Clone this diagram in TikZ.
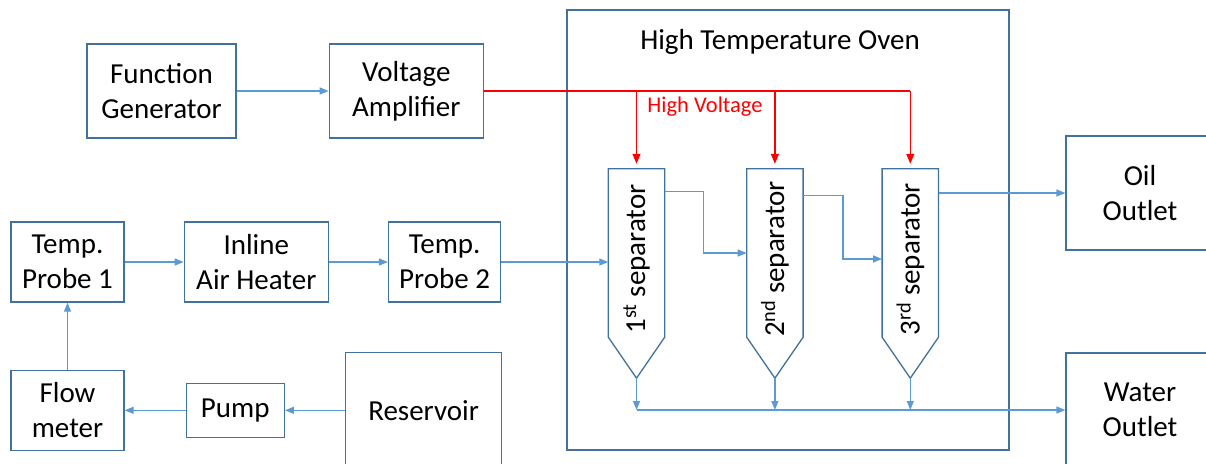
\documentclass[tikz,border=0pt]{standalone}
\usepackage{fontspec}
\setmainfont{Carlito}
\usepackage{tikz}
\usetikzlibrary{arrows.meta,positioning,calc}
\definecolor{boxblue}{RGB}{65,113,156}
\definecolor{flowblue}{RGB}{91,155,213}
\definecolor{hvred}{RGB}{255,0,0}

\begin{document}
\begin{tikzpicture}[
  x=1pt, y=-1pt,
  blkbox/.style={draw=boxblue, line width=1.3pt, align=center, inner sep=2pt,
                 font=\fontsize{29}{35}\selectfont},
  sepbox/.style={minimum width=56pt, minimum height=168pt, inner sep=0pt,
                 font=\fontsize{29}{35}\selectfont},
  flowarr/.style={-{Triangle[length=9pt,width=7pt]}, flowblue, line width=1.3pt},
  hvarr/.style={-{Triangle[length=10pt,width=8pt]}, hvred, line width=1.2pt}
]
\clip (0,0) rectangle (1206,463);

% oven
\node[blkbox, minimum width=442pt, minimum height=440pt] (oven) at (788,230) {};
\node[font=\fontsize{29}{35}\selectfont] (ovtitle) at (780,42) {High Temperature Oven};

% signal chain
\node[blkbox, minimum width=149pt, minimum height=94pt] (fgen) at (161.5,91) {Function\\Generator};
\node[blkbox, minimum width=154pt, minimum height=94pt, right=92pt of fgen] (vamp) {Voltage\\Amplifier};

% air/oil loop
\node[blkbox, minimum width=113pt, minimum height=80pt] (tp1) at (67.5,262) {Temp.\\Probe 1};
\node[blkbox, minimum width=144pt, minimum height=80pt, right=59pt of tp1] (heater) {Inline\\Air Heater};
\node[blkbox, minimum width=112pt, minimum height=80pt, right=59pt of heater] (tp2) {Temp.\\Probe 2};
\node[blkbox, minimum width=113pt, minimum height=80pt, below=67pt of tp1] (flowm) {Flow\\meter};
\node[blkbox, minimum width=98pt, minimum height=54pt, right=61pt of flowm] (pump) {Pump};
\node[blkbox, minimum width=156pt, minimum height=116pt, right=60pt of pump] (resv) {Reservoir};

% separators
\node[sepbox] (sep1) at (636.5,253) {\rotatebox{90}{1\textsuperscript{st} separator\hspace*{12pt}}};
\node[sepbox, right=82pt of sep1] (sep2) {\rotatebox{90}{2\textsuperscript{nd} separator\hspace*{12pt}}};
\node[sepbox, right=79pt of sep2] (sep3) {\rotatebox{90}{3\textsuperscript{rd} separator\hspace*{12pt}}};
\foreach \s in {sep1,sep2,sep3}{
  \coordinate (\s-tip) at ([yshift=-41pt]\s.south);
  \draw[boxblue, line width=1.3pt] (\s.south west) -- (\s.north west) -- (\s.north east)
    -- (\s.south east) -- (\s-tip) -- cycle;
}

% outlets
\node[blkbox, minimum width=148pt, minimum height=114pt] (oil) at (1140,193) {Oil\\Outlet};
\node[blkbox, minimum width=148pt, minimum height=114pt] (water) at (1140,410) {Water\\Outlet};

% high voltage feed
\draw[hvred, line width=1.2pt] (vamp.east) -- (vamp.east -| sep3.north);
\foreach \s in {sep1,sep2,sep3}
  \draw[hvarr, shorten >=5pt] (vamp.east -| \s.north) -- (\s.north);
\node[text=hvred, font=\fontsize{22.5}{27}\selectfont] (hvlbl) at (705,107) {High Voltage};

% flow connectors
\draw[flowarr] (fgen.east) -- (vamp.west);
\draw[flowarr] (tp1.east) -- (heater.west);
\draw[flowarr] (heater.east) -- (tp2.west);
\draw[flowarr] (tp2.east) -- (tp2.east -| sep1.west);
\draw[flowarr] (resv.west |- pump.east) -- (pump.east);
\draw[flowarr] (pump.west) -- (flowm.east);
\draw[flowarr] (flowm.north) -- (tp1.south);
\draw[flowarr] ([yshift=-23pt]sep1.north east) -- ++(39,0) |- (sep2.west);
\draw[flowarr] ([yshift=-27pt]sep2.north east) -- ++(40,0) |- ([yshift=-6pt]sep3.west);
\draw[flowarr] (sep3.east |- oil.west) -- (oil.west);
\foreach \s in {sep1,sep2,sep3}
  \draw[flowarr] (\s-tip) -- (\s-tip |- water.west);
\draw[flowarr] (sep1-tip |- water.west) -- (water.west);
\end{tikzpicture}
\end{document}
